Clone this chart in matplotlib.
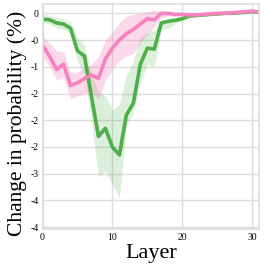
import numpy as np
import matplotlib
matplotlib.use('Agg')
import matplotlib.pyplot as plt
from matplotlib.ticker import FormatStrFormatter, MultipleLocator

plt.rcParams['font.family'] = ['Liberation Serif', 'DejaVu Serif']

layers = np.arange(32)

# green series
green_mean = [-0.11, -0.12, -0.18, -0.20, -0.28, -0.70, -0.80, -1.55, -2.30, -2.15,
              -2.50, -2.65, -1.90, -1.68, -0.95, -0.65, -0.67, -0.18, -0.15, -0.13,
              -0.10, -0.05, -0.04, -0.03, -0.02, -0.01, 0.00, 0.00, 0.01, 0.02,
              0.03, 0.02]
green_upper = [-0.02, -0.04, -0.08, -0.10, -0.17, -0.45, -0.60, -1.15, -1.45, -1.55,
               -1.80, -1.70, -1.15, -0.90, -0.45, -0.36, -0.32, -0.12, -0.10, -0.08,
               -0.06, -0.03, -0.02, -0.01, 0.00, 0.01, 0.02, 0.02, 0.03, 0.04,
               0.05, 0.04]
green_lower = [-0.17, -0.20, -0.28, -0.30, -0.38, -0.90, -1.15, -2.00, -3.05, -2.95,
               -3.20, -3.45, -2.10, -1.85, -1.30, -0.95, -1.00, -0.30, -0.28, -0.20,
               -0.13, -0.08, -0.06, -0.05, -0.04, -0.03, -0.02, -0.02, -0.01, 0.00,
               0.01, 0.00]

# pink series
pink_mean = [-0.60, -0.80, -1.05, -0.95, -1.35, -1.30, -1.22, -1.15, -1.22, -0.85,
             -0.65, -0.50, -0.38, -0.30, -0.20, -0.10, -0.12, 0.00, 0.00, -0.02,
             -0.02, -0.03, -0.03, -0.02, -0.01, 0.00, 0.00, 0.01, 0.02, 0.03,
             0.04, 0.03]
pink_upper = [-0.42, -0.55, -0.70, -0.72, -1.10, -1.10, -1.02, -0.95, -0.80, -0.50,
              -0.35, -0.18, -0.05, -0.02, 0.00, 0.03, 0.06, 0.04, 0.02, 0.00,
              0.00, -0.01, -0.01, 0.00, 0.01, 0.02, 0.02, 0.03, 0.04, 0.05,
              0.06, 0.05]
pink_lower = [-0.80, -1.00, -1.25, -1.20, -1.60, -1.55, -1.50, -1.47, -1.60, -1.25,
              -1.05, -0.88, -0.80, -0.75, -0.55, -0.40, -0.25, -0.08, -0.05, -0.05,
              -0.04, -0.05, -0.05, -0.04, -0.03, -0.02, -0.02, -0.01, 0.00, 0.01,
              0.02, 0.01]

green = '#4daf4a'
pink = '#f781bf'

fig = plt.figure(figsize=(2.66, 2.66), dpi=100)
ax = fig.add_axes([0.160, 0.138, 0.814, 0.846])

ax.fill_between(layers, green_lower, green_upper, color=green, alpha=0.2, lw=0)
ax.fill_between(layers, pink_lower, pink_upper, color=pink, alpha=0.3, lw=0)
ax.plot(layers, green_mean, color=green, lw=2.6)
ax.plot(layers, pink_mean, color=pink, lw=2.6)

ax.set_xlim(0, 31)
ax.set_ylim(-4.04, 0.17)
ax.xaxis.set_major_locator(MultipleLocator(10))
ax.yaxis.set_major_locator(MultipleLocator(0.5))
ax.yaxis.set_major_formatter(FormatStrFormatter('%.0f'))

ax.grid(True, color='#dddddd', lw=1)
ax.set_axisbelow(True)
for s in ax.spines.values():
    s.set_color('#dddddd')
    s.set_linewidth(1.2)
ax.tick_params(length=0, labelsize=7, pad=3)

ax.set_xlabel('Layer', fontsize=16, labelpad=1)
ax.set_ylabel('Change in probability (%)', fontsize=15.5)
ax.yaxis.set_label_coords(-0.07, 0.47)

fig.savefig('out.png', dpi=100)
